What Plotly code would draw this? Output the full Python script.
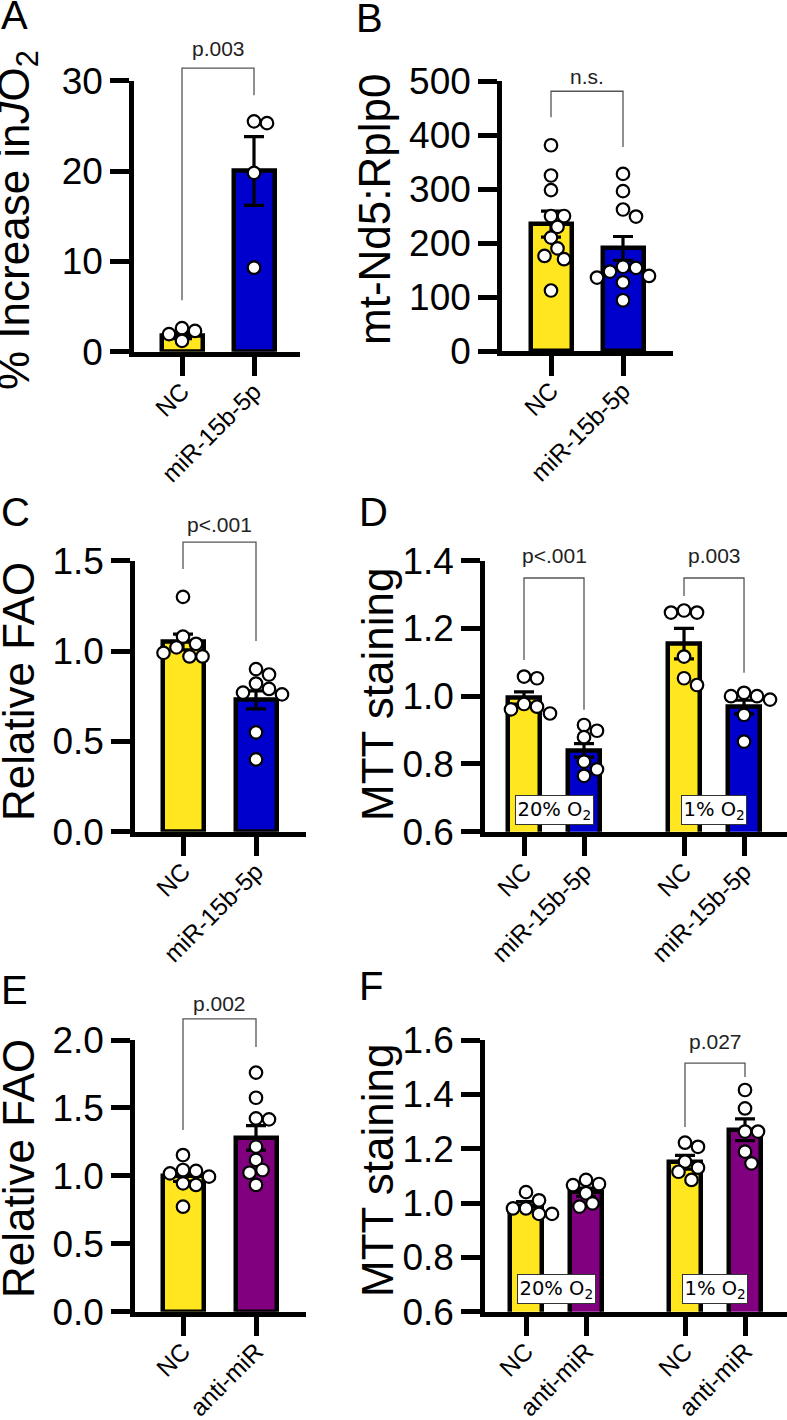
import plotly.graph_objects as go

W, H = 787, 1420

# ---------------- data ----------------
a_groups = ["NC", "miR-15b-5p"]
a_means = [1.8, 20.0]
a_sem = [0.35, 3.8]
a_nc = [2.6, 2.3, 1.95, 1.2]
a_mir = [25.3, 25.5, 19.8, 9.3]

b_groups = ["NC", "miR-15b-5p"]
b_means = [235, 190]
b_sem = [24, 22]
b_nc = [381, 325, 298, 250, 250, 230, 210, 190, 176, 170, 112]
b_mir = [328, 296, 262, 249, 156, 154, 147, 139, 136, 127, 94]

c_groups = ["NC", "miR-15b-5p"]
c_means = [1.05, 0.73]
c_sem = [0.044, 0.05]
c_nc = [1.30, 1.08, 1.04, 1.02, 0.99, 0.97, 0.97]
c_mir = [0.90, 0.87, 0.82, 0.79, 0.77, 0.76, 0.55, 0.40]

d_groups = ["NC", "miR-15b-5p", "NC", "miR-15b-5p"]
d_means = [0.995, 0.84, 1.155, 0.968]
d_sem = [0.018, 0.02, 0.045, 0.02]
d_nc20 = [1.058, 1.053, 0.977, 0.969, 0.961, 0.949]
d_mir20 = [0.915, 0.898, 0.879, 0.807, 0.784, 0.765]
d_nc1 = [1.253, 1.247, 1.247, 1.117, 1.053, 1.033]
d_mir1 = [1.01, 1.0, 1.0, 0.99, 0.945, 0.866]

e_groups = ["NC", "anti-miR"]
e_means = [1.0, 1.28]
e_sem = [0.04, 0.09]
e_nc = [1.153, 1.043, 1.036, 1.018, 0.994, 0.945, 0.933, 0.773]
e_anti = [1.76, 1.575, 1.423, 1.416, 1.215, 1.117, 1.043, 1.023, 0.933]

f_groups = ["NC", "anti-miR", "NC", "anti-miR"]
f_means = [0.99, 1.04, 1.15, 1.27]
f_sem = [0.015, 0.015, 0.025, 0.04]
f_nc20 = [1.04, 1.01, 0.98, 0.98, 0.96, 0.96]
f_anti20 = [1.085, 1.07, 1.066, 1.036, 0.999, 0.987]
f_nc1 = [1.222, 1.207, 1.152, 1.13, 1.115, 1.085]
f_anti1 = [1.416, 1.348, 1.263, 1.263, 1.189, 1.146]

condition_labels = ["20% O<sub>2</sub>", "1% O<sub>2</sub>"]

# significance annotations: (panel, bar i, bar j, label, bracket top, left leg end, right leg end, text y)
brackets = [
    ("A", 0, 1, "p.003", 31.4, 5.7, 28.4, 33.6),
    ("B", 0, 1, "n.s.", 481, 433, 378, 508),
    ("C", 0, 1, "p<.001", 1.603, 1.454, 1.056, 1.70),
    ("D", 0, 1, "p<.001", 1.349, 1.107, 0.960, 1.414),
    ("D", 2, 3, "p.003", 1.349, 1.296, 1.069, 1.414),
    ("E", 0, 1, "p.002", 2.155, 1.337, 1.948, 2.272),
    ("F", 2, 3, "p.027", 1.515, 1.280, 1.464, 1.596),
]

YELLOW = "#FFE61E"
BLUE = "#0000CC"
PURPLE = "#800080"
FONT = "Liberation Sans, Arial, Helvetica, sans-serif"

panels = {
    "A": dict(title="% Increase in<i>J</i>O<sub>2</sub>", labels=a_groups, means=a_means, sem=a_sem,
              pts=[a_nc, a_mir], colors=[YELLOW, BLUE], box=(134, 300, 80.7, 351.7), yr=(0, 30),
              dtick=10, fmt="d", c0=182, unit=72, pos=[0, 1], barw=41, title_xy=(17, 220), letter_xy=(-1, -9)),
    "B": dict(title="mt-Nd5:Rplp0", labels=b_groups, means=b_means, sem=b_sem,
              pts=[b_nc, b_mir], colors=[YELLOW, BLUE], box=(502, 673, 81, 351), yr=(0, 500),
              dtick=100, fmt="d", c0=551, unit=72, pos=[0, 1], barw=41, title_xy=(374, 210), letter_xy=(354, -6)),
    "C": dict(title="Relative FAO", labels=c_groups, means=c_means, sem=c_sem,
              pts=[c_nc, c_mir], colors=[YELLOW, BLUE], box=(135, 306, 560.7, 831.7), yr=(0, 1.5),
              dtick=0.5, fmt=".1f", c0=183, unit=73, pos=[0, 1], barw=41, title_xy=(18, 692), letter_xy=(-1, 488)),
    "D": dict(title="MTT staining", labels=d_groups, means=d_means, sem=d_sem,
              pts=[d_nc20, d_mir20, d_nc1, d_mir1], colors=[YELLOW, BLUE, YELLOW, BLUE],
              box=(485, 787, 560.7, 831.7), yr=(0.6, 1.4), dtick=0.2, fmt=".1f", c0=524, unit=60,
              pos=[0, 1, 2.667, 3.667], barw=32, title_xy=(377, 694), letter_xy=(357, 488),
              cond_y=0.664),
    "E": dict(title="Relative FAO", labels=e_groups, means=e_means, sem=e_sem,
              pts=[e_nc, e_anti], colors=[YELLOW, PURPLE], box=(135, 306, 1040, 1311.7), yr=(0, 2.0),
              dtick=0.5, fmt=".1f", c0=183, unit=73, pos=[0, 1], barw=41, title_xy=(18, 1169), letter_xy=(-1, 966)),
    "F": dict(title="MTT staining", labels=f_groups, means=f_means, sem=f_sem,
              pts=[f_nc20, f_anti20, f_nc1, f_anti1], colors=[YELLOW, PURPLE, YELLOW, PURPLE],
              box=(485, 787, 1040, 1311.7), yr=(0.6, 1.6), dtick=0.2, fmt=".1f", c0=526, unit=60,
              pos=[0, 1, 2.65, 3.65], barw=32, title_xy=(377, 1170), letter_xy=(357, 962),
              cond_y=0.682),
}


def swarm(values, px_per_unit, diam=13.0, step=6.5):
    """Simple beeswarm: horizontal pixel offsets so markers do not overlap."""
    placed = []
    res = [0.0] * len(values)
    order = sorted(range(len(values)), key=lambda i: -values[i])
    cands = [0.0]
    for n in range(1, 30):
        cands += [n * step, -n * step]
    for i in order:
        y = values[i] * px_per_unit
        for c in cands:
            if all((c - px) ** 2 + (y - py) ** 2 >= (diam * 0.92) ** 2 for px, py in placed):
                break
        placed.append((c, y))
        res[i] = c
    return res


fig = go.Figure()
layout = dict(width=W, height=H, margin=dict(l=0, r=0, t=0, b=0, pad=0), autosize=False,
              template="none", plot_bgcolor="white",
              paper_bgcolor="white", showlegend=False, font=dict(family=FONT, color="black"))
shapes = []
annotations = []

for k, (name, p) in enumerate(panels.items(), start=1):
    xa = "x" if k == 1 else f"x{k}"
    ya = "y" if k == 1 else f"y{k}"
    left, right, top, bottom = p["box"]
    y0, y1 = p["yr"]
    xr0 = (left - p["c0"]) / p["unit"]
    xr1 = (right - p["c0"]) / p["unit"]
    ypu = (bottom - top) / (y1 - y0)

    def xpaper(x, left=left, xr0=xr0, p=p):
        return (left + (x - xr0) * p["unit"]) / W

    def ypaper(v, bottom=bottom, y0=y0, ypu=ypu):
        return 1 - (bottom - (v - y0) * ypu) / H

    layout["xaxis" if k == 1 else f"xaxis{k}"] = dict(
        domain=[left / W, right / W], range=[xr0, xr1], anchor=ya, automargin=False,
        tickvals=p["pos"], ticktext=p["labels"], tickangle=-45, ticklabelstandoff=-9,
        tickfont=dict(size=24.5, family=FONT, color="black"),
        showline=True, linecolor="black", linewidth=4.5, ticks="outside", ticklen=20,
        tickwidth=4.5, tickcolor="black", showgrid=False, zeroline=False, fixedrange=True)
    layout["yaxis" if k == 1 else f"yaxis{k}"] = dict(
        domain=[1 - bottom / H, 1 - top / H], range=[y0, y1], anchor=xa, automargin=False,
        tick0=y0, dtick=p["dtick"], tickformat=p["fmt"],
        tickfont=dict(size=37, family=FONT, color="black"),
        showline=True, linecolor="black", linewidth=4.5, ticks="outside", ticklen=19,
        tickwidth=4.5, tickcolor="black", showgrid=False, zeroline=False, fixedrange=True)

    fig.add_trace(go.Bar(
        x=p["pos"], y=p["means"], width=p["barw"] / p["unit"], xaxis=xa, yaxis=ya,
        marker=dict(color=p["colors"], line=dict(color="black", width=4.5)),
        error_y=dict(type="data", array=p["sem"], visible=True, color="black", thickness=3.2, width=10),
        hoverinfo="skip"))

    for gi, vals in enumerate(p["pts"]):
        offs = swarm(vals, ypu)
        fig.add_trace(go.Scatter(
            x=[p["pos"][gi] + o / p["unit"] for o in offs], y=vals, mode="markers",
            xaxis=xa, yaxis=ya, cliponaxis=False,
            marker=dict(size=12.5, color="white", line=dict(color="black", width=2.2)),
            hoverinfo="skip"))

    # y-axis title
    tx, ty = p["title_xy"]
    annotations.append(dict(text=p["title"], x=tx / W, y=1 - ty / H, xref="paper", yref="paper",
                            xanchor="center", yanchor="middle", textangle=-90, showarrow=False,
                            font=dict(size=44, family=FONT, color="black")))
    # panel letter
    lx, ly = p["letter_xy"]
    annotations.append(dict(text=name, x=lx / W, y=1 - ly / H, xref="paper", yref="paper",
                            xanchor="left", yanchor="top", showarrow=False,
                            font=dict(size=40, family=FONT, color="black")))

    # condition boxes
    if "cond_y" in p:
        for ci, lab in enumerate(condition_labels):
            xm = (p["pos"][2 * ci] + p["pos"][2 * ci + 1]) / 2
            annotations.append(dict(text=lab, x=xpaper(xm), y=ypaper(p["cond_y"]), xref="paper",
                                    yref="paper", xanchor="center", yanchor="middle", showarrow=False,
                                    bgcolor="white", bordercolor="#333333", borderwidth=1, borderpad=1.5,
                                    font=dict(size=19.5, family="DejaVu Sans", color="black")))

    # significance brackets
    for (pn, i, j, lab, yt, yl, yr_, ytext) in brackets:
        if pn != name:
            continue
        x0 = xpaper(p["pos"][i])
        x1 = xpaper(p["pos"][j])
        shapes.append(dict(type="path", xref="paper", yref="paper",
                           path=f"M {x0},{ypaper(yl)} L {x0},{ypaper(yt)} L {x1},{ypaper(yt)} L {x1},{ypaper(yr_)}",
                           line=dict(color="#555555", width=1.3)))
        annotations.append(dict(text=lab, x=(x0 + x1) / 2, y=ypaper(ytext), xref="paper", yref="paper",
                                xanchor="center", yanchor="middle", showarrow=False,
                                font=dict(size=21, family=FONT, color="#222222")))

layout["shapes"] = shapes
layout["annotations"] = annotations
layout["bargap"] = 0
fig.update_layout(**layout)
fig.write_html("out.html", config={"displayModeBar": False},
               post_script="document.body.style.margin='0';document.body.style.overflow='hidden';")
